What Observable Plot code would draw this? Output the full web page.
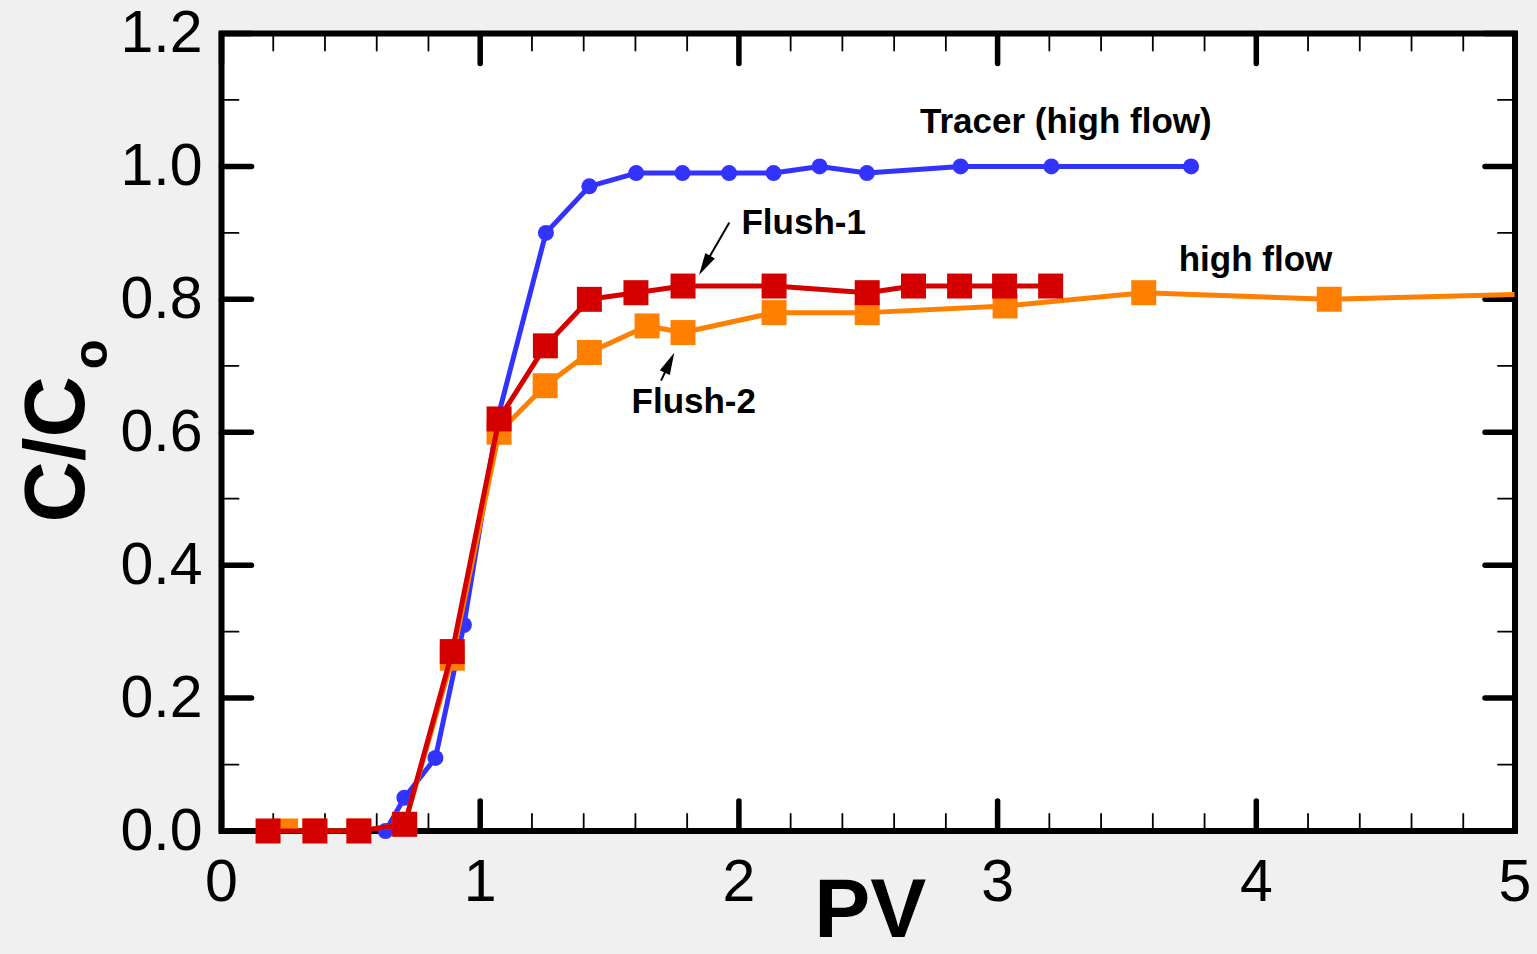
<!DOCTYPE html>
<html>
<head>
<meta charset="utf-8">
<script src="https://cdn.jsdelivr.net/npm/d3@7"></script>
<script src="https://cdn.jsdelivr.net/npm/@observablehq/plot@0.6"></script>
<style>
html, body { margin: 0; padding: 0; background: #f0f0f0; overflow: hidden; }
</style>
</head>
<body>
<div id="chart"></div>
<script>
// ---- data ----
const tracerPV = [0.634, 0.707, 0.827, 0.937, 1.07, 1.254, 1.422, 1.603, 1.782, 1.962, 2.134, 2.312, 2.495, 2.857, 3.208, 3.748];
const tracerC  = [0, 0.05, 0.11, 0.31, 0.625, 0.90, 0.97, 0.99, 0.99, 0.99, 0.99, 1.00, 0.99, 1.00, 1.00, 1.00];

const flush1PV = [0.180, 0.361, 0.531, 0.708, 0.892, 1.073, 1.252, 1.422, 1.602, 1.784, 2.136, 2.496, 2.675, 2.853, 3.027, 3.205];
const flush1C  = [0, 0, 0, 0.01, 0.27, 0.62, 0.73, 0.80, 0.81, 0.82, 0.82, 0.81, 0.82, 0.82, 0.82, 0.82];

const flush2PV = [0.248, 0.361, 0.531, 0.708, 0.892, 1.073, 1.251, 1.422, 1.645, 1.784, 2.136, 2.496, 3.029, 3.565, 4.282, 5.25];
const flush2C  = [0, 0, 0, 0.01, 0.26, 0.60, 0.67, 0.72, 0.76, 0.75, 0.78, 0.78, 0.79, 0.81, 0.80, 0.81];

const xMajorTicks = [0, 1, 2, 3, 4, 5];
const xMinorTicks = [0.2, 0.4, 0.6, 0.8, 1.2, 1.4, 1.6, 1.8, 2.2, 2.4, 2.6, 2.8, 3.2, 3.4, 3.6, 3.8, 4.2, 4.4, 4.6, 4.8];
const yMajorTicks = [0, 0.2, 0.4, 0.6, 0.8, 1.0, 1.2];
const yMinorTicks = [0.1, 0.3, 0.5, 0.7, 0.9, 1.1];

const labels = [
  {text: "Tracer (high flow)", x: 2.70, y: 1.051},
  {text: "Flush-1", x: 2.01, y: 0.899},
  {text: "Flush-2", x: 1.585, y: 0.629},
  {text: "high flow", x: 3.70, y: 0.842}
];
const arrows = [
  {x1: 1.965, y1: 0.915, x2: 1.848, y2: 0.836},
  {x1: 1.701, y1: 0.677, x2: 1.752, y2: 0.719}
];

// ---- tables ----
const tracer = tracerPV.map((x, i) => ({x, y: tracerC[i]}));
const flush1 = flush1PV.map((x, i) => ({x, y: flush1C[i]}));
const flush2 = flush2PV.map((x, i) => ({x, y: flush2C[i]}));

const BLUE = "#3333ff", RED = "#d40000", ORANGE = "#ff8000";
const FONT = "Liberation Sans, Arial, Helvetica, sans-serif";

const tickShape = {draw(context, l) { context.moveTo(0, 0); context.lineTo(0, -l); }};
const ticks = (data, axis, side, len, sw) => Plot.vector(data, {
  [axis]: d => d,
  frameAnchor: side,
  length: len,
  rotate: side === "bottom" ? 0 : side === "top" ? 180 : side === "left" ? 90 : -90,
  anchor: "start",
  shape: tickShape,
  stroke: "black",
  strokeWidth: sw
});

function arrowMark(index, scales) {
  const g = d3.create("svg:g");
  const hl = 22, hw = 5.5;
  for (const a of arrows) {
    const x1 = scales.x(a.x1), y1 = scales.y(a.y1), x2 = scales.x(a.x2), y2 = scales.y(a.y2);
    const ang = Math.atan2(y2 - y1, x2 - x1);
    const c = Math.cos(ang), s = Math.sin(ang);
    const bx = x2 - hl * c, by = y2 - hl * s;
    g.append("line")
      .attr("x1", x1).attr("y1", y1).attr("x2", bx + 2 * c).attr("y2", by + 2 * s)
      .attr("stroke", "black").attr("stroke-width", 2);
    g.append("path")
      .attr("d", `M${x2},${y2}L${bx + hw * s},${by - hw * c}L${bx - hw * s},${by + hw * c}Z`)
      .attr("fill", "black");
  }
  return g.node();
}

const chart = Plot.plot({
  width: 1537,
  height: 954,
  marginLeft: 221,
  marginRight: 22.5,
  marginTop: 33,
  marginBottom: 123.5,
  style: {background: "#f0f0f0", fontFamily: FONT, color: "black"},
  x: {domain: [0, 5], label: null},
  y: {domain: [0, 1.2], label: null},
  marks: [
    Plot.frame({fill: "white", stroke: "none"}),
    ticks(xMajorTicks, "x", "bottom", 30, 5.5),
    ticks(xMajorTicks, "x", "top", 30, 5.5),
    ticks(xMinorTicks, "x", "bottom", 17, 1.8),
    ticks(xMinorTicks, "x", "top", 17, 1.8),
    ticks(yMajorTicks, "y", "left", 30, 5.5),
    ticks(yMajorTicks, "y", "right", 30, 5.5),
    ticks(yMinorTicks, "y", "left", 17, 1.8),
    ticks(yMinorTicks, "y", "right", 17, 1.8),
    Plot.frame({stroke: "black", strokeWidth: 6}),
    Plot.axisX(xMajorTicks, {tickSize: 0, tickPadding: 28, fontSize: 59, fontFamily: FONT, tickFormat: d3.format("d"), label: null}),
    Plot.axisY(yMajorTicks, {tickSize: 0, tickPadding: 19, fontSize: 59, fontFamily: FONT, tickFormat: d3.format(".1f"), label: null}),
    // tracer
    Plot.line(tracer, {x: "x", y: "y", stroke: BLUE, strokeWidth: 5}),
    Plot.dot(tracer, {x: "x", y: "y", r: 8, fill: BLUE}),
    // flush-2 (orange)
    Plot.line(flush2, {x: "x", y: "y", stroke: ORANGE, strokeWidth: 5, clip: "frame"}),
    Plot.dot(flush2, {x: "x", y: "y", symbol: "square", r: 14.1, fill: ORANGE, clip: "frame"}),
    // flush-1 (red)
    Plot.line(flush1, {x: "x", y: "y", stroke: RED, strokeWidth: 5}),
    Plot.dot(flush1, {x: "x", y: "y", symbol: "square", r: 14.1, fill: RED}),
    // annotations
    Plot.text(labels, {x: "x", y: "y", text: "text", textAnchor: "start", lineAnchor: "bottom",
      fontSize: 35, fontWeight: "bold", fontFamily: FONT, fill: "black"}),
    arrowMark,
    // axis titles
    Plot.text(["PV"], {frameAnchor: "bottom", text: d => d, textAnchor: "middle", lineAnchor: "bottom",
      dx: 2, dy: 106, fontSize: 84, fontWeight: "bold", fontFamily: FONT, fill: "black"}),
    Plot.text(["C/C"], {frameAnchor: "left", text: d => d, rotate: -90, textAnchor: "middle", lineAnchor: "bottom",
      dx: -138, dy: 17, fontSize: 85, fontWeight: "bold", fontFamily: FONT, fill: "black"}),
    Plot.text(["o"], {frameAnchor: "left", text: d => d, rotate: -90, textAnchor: "middle", lineAnchor: "bottom",
      dx: -115, dy: -78, fontSize: 49, fontWeight: "bold", fontFamily: FONT, fill: "black"})
  ]
});
document.getElementById("chart").appendChild(chart);
</script>
</body>
</html>
